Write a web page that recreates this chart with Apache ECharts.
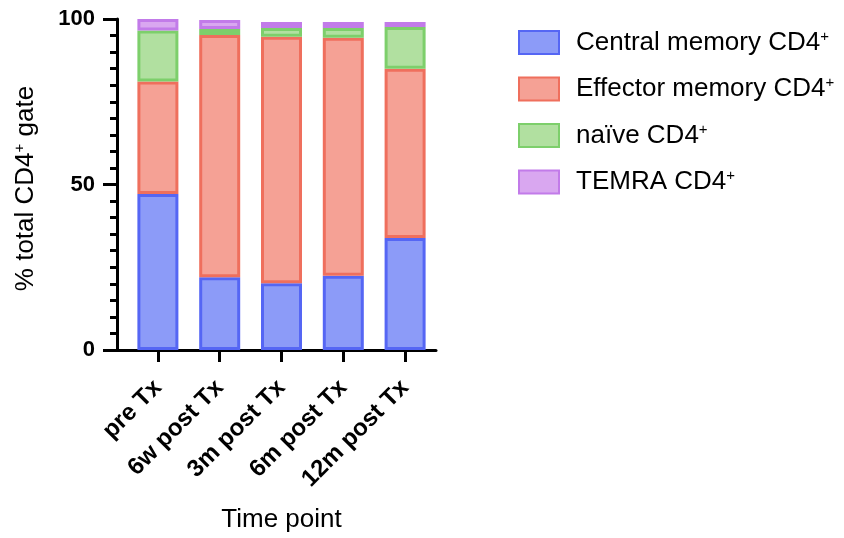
<!DOCTYPE html>
<html>
<head>
<meta charset="utf-8">
<script src="https://cdn.jsdelivr.net/npm/echarts@6/dist/echarts.min.js"></script>
<style>
  html, body { margin: 0; padding: 0; background: #fff; }
  #main { width: 844px; height: 538px; }
</style>
</head>
<body>
<div id="main"></div>
<script>
// categories and stacked values (% of CD4+ gate)
var timePoints = ['pre Tx', '6w post Tx', '3m post Tx', '6m post Tx', '12m post Tx'];
var centralMem = [47.1, 22.0, 20.2, 22.4, 33.8];
var effectorMem = [34.0, 73.2, 74.4, 71.9, 51.2];
var naive = [15.4, 1.8, 2.7, 3.0, 12.6];
var temra = [3.5, 2.7, 1.8, 1.8, 1.5];
var yTicks = [0, 50, 100];

var font = 'Liberation Sans, Arial, Helvetica, sans-serif';
// superscript "+" style, shared by legend and axis name
var supStyle = { fontSize: 15, verticalAlign: 'top', padding: [0, 0, 12, 0], fontFamily: font, color: '#000' };

var chart = echarts.init(document.getElementById('main'));

function barSeries(name, data, fill, border) {
  return {
    name: name,
    type: 'bar',
    stack: 'total',
    barWidth: 41,
    data: data,
    itemStyle: { color: fill, borderColor: border, borderWidth: 3 },
    emphasis: { disabled: true }
  };
}

var option = {
  animation: false,
  textStyle: { fontFamily: font },
  legend: {
    orient: 'vertical',
    left: 513,
    top: 24,
    icon: 'rect',
    itemWidth: 40,
    itemHeight: 23,
    itemGap: 20,
    selectedMode: false,
    formatter: function (n) { return n.replace('CD4+', 'CD4{sup|+}'); },
    textStyle: {
      fontSize: 26, color: '#000', fontFamily: font, padding: [0, 0, 0, 12],
      rich: { sup: supStyle }
    },
    data: ['Central memory CD4+', 'Effector memory CD4+', 'naïve CD4+', 'TEMRA CD4+']
  },
  grid: [
    { left: 127, top: 19, width: 309, height: 331 },
    { left: 117, top: 19, width: 319, height: 331 }
  ],
  xAxis: [
    {
      type: 'category',
      gridIndex: 0,
      data: timePoints,
      name: 'Time point',
      nameLocation: 'middle',
      nameGap: 157,
      nameTextStyle: { fontSize: 26, color: '#000', fontFamily: font },
      axisLine: { show: false },
      axisTick: { show: true, alignWithLabel: true, length: 12, lineStyle: { color: '#000', width: 3 } },
      axisLabel: {
        rotate: 45, interval: 0, margin: 34,
        fontSize: 24, fontWeight: 'bold', color: '#000', fontFamily: font
      }
    },
    {
      type: 'value',
      gridIndex: 1,
      min: 0, max: 1,
      axisLine: { show: true, lineStyle: { color: '#000', width: 3 } },
      axisTick: { show: false },
      axisLabel: { show: false },
      splitLine: { show: false }
    }
  ],
  yAxis: [
    {
      type: 'value',
      gridIndex: 0,
      min: 0, max: 100, interval: 50,
      offset: 10,
      name: '% total CD4{sup|+} gate',
      nameLocation: 'middle',
      nameGap: 78,
      nameTextStyle: {
        fontSize: 26, color: '#000', fontFamily: font, padding: [0, 8, 0, 0],
        rich: { sup: supStyle }
      },
      axisLine: { show: true, lineStyle: { color: '#000', width: 3 } },
      axisTick: { show: true, length: 14, lineStyle: { color: '#000', width: 3 } },
      minorTick: { show: true, splitNumber: 10, length: 7, lineStyle: { color: '#000', width: 3 } },
      splitLine: { show: false },
      axisLabel: {
        margin: 22, fontSize: 22, fontWeight: 'bold', color: '#000', fontFamily: font,
        formatter: function (v) { return yTicks.indexOf(v) >= 0 ? String(v) : ''; }
      }
    },
    { type: 'value', gridIndex: 1, show: false, min: 0, max: 1 }
  ],
  series: [
    barSeries('Central memory CD4+', centralMem, '#8c9bf8', '#5566f4'),
    barSeries('Effector memory CD4+', effectorMem, '#f5a195', '#ef6f5d'),
    barSeries('naïve CD4+', naive, '#b1e0a0', '#7dcf6b'),
    barSeries('TEMRA CD4+', temra, '#d9a7f0', '#c27be9')
  ]
};

chart.setOption(option);
</script>
</body>
</html>
